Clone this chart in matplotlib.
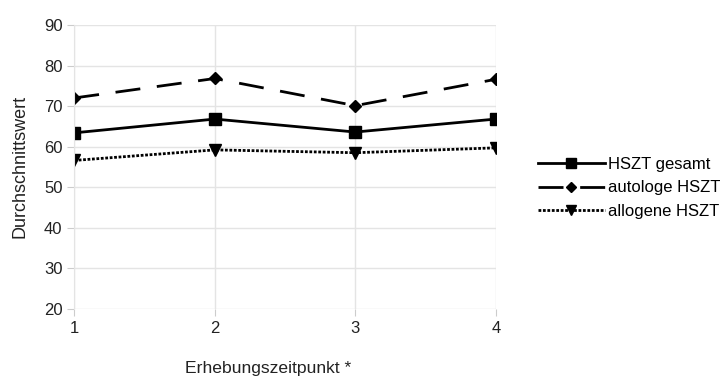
import matplotlib
matplotlib.use("Agg")
import matplotlib.pyplot as plt

plt.rcParams["font.family"] = ["Liberation Sans", "DejaVu Sans"]

zeitpunkte = [1, 2, 3, 4]
gesamt = [63.4, 66.8, 63.6, 66.8]
autolog = [72.0, 76.8, 70.1, 76.6]
allogen = [56.6, 59.2, 58.5, 59.7]
yticks = [20, 30, 40, 50, 60, 70, 80, 90]

fig = plt.figure(figsize=(7.28, 3.9), dpi=100)
ax = fig.add_axes([0.102, 0.208, 0.579, 0.728])

ax.plot(zeitpunkte, gesamt, color="black", lw=2, marker="s", ms=8,
        label="HSZT gesamt")
ax.plot(zeitpunkte, autolog, color="black", lw=2, dashes=(9, 6), marker="D",
        ms=6, label="autologe HSZT")
ax.plot(zeitpunkte, allogen, color="black", lw=2, ls=(0, (1, 0.6)), marker="v",
        ms=8, label="allogene HSZT")

ax.set_xlim(1, 4)
ax.set_ylim(20, 90)
ax.set_xticks(zeitpunkte)
ax.set_yticks(yticks)
ax.grid(True, color="#e4e4e4", lw=1)
ax.set_axisbelow(True)
for s in ["top", "right", "bottom"]:
    ax.spines[s].set_visible(False)
ax.spines["left"].set_color("#e4e4e4")
ax.tick_params(axis="both", colors="#cccccc", labelcolor="#222222",
               labelsize=12, length=5)

ax.set_ylabel("Durchschnittswert", fontsize=13, color="#222222")
ax.yaxis.set_label_coords(-0.108, 0.5)
ax.set_xlabel("Erhebungszeitpunkt *", fontsize=12.6, color="#222222")
ax.xaxis.set_label_coords(0.46, -0.185)

ax.legend(loc="center left", bbox_to_anchor=(1.065, 0.426), frameon=False,
          fontsize=12, handlelength=4.0, handletextpad=0.2,
          labelspacing=0.5, markerscale=0.9)

fig.savefig("out.png", dpi=100)
